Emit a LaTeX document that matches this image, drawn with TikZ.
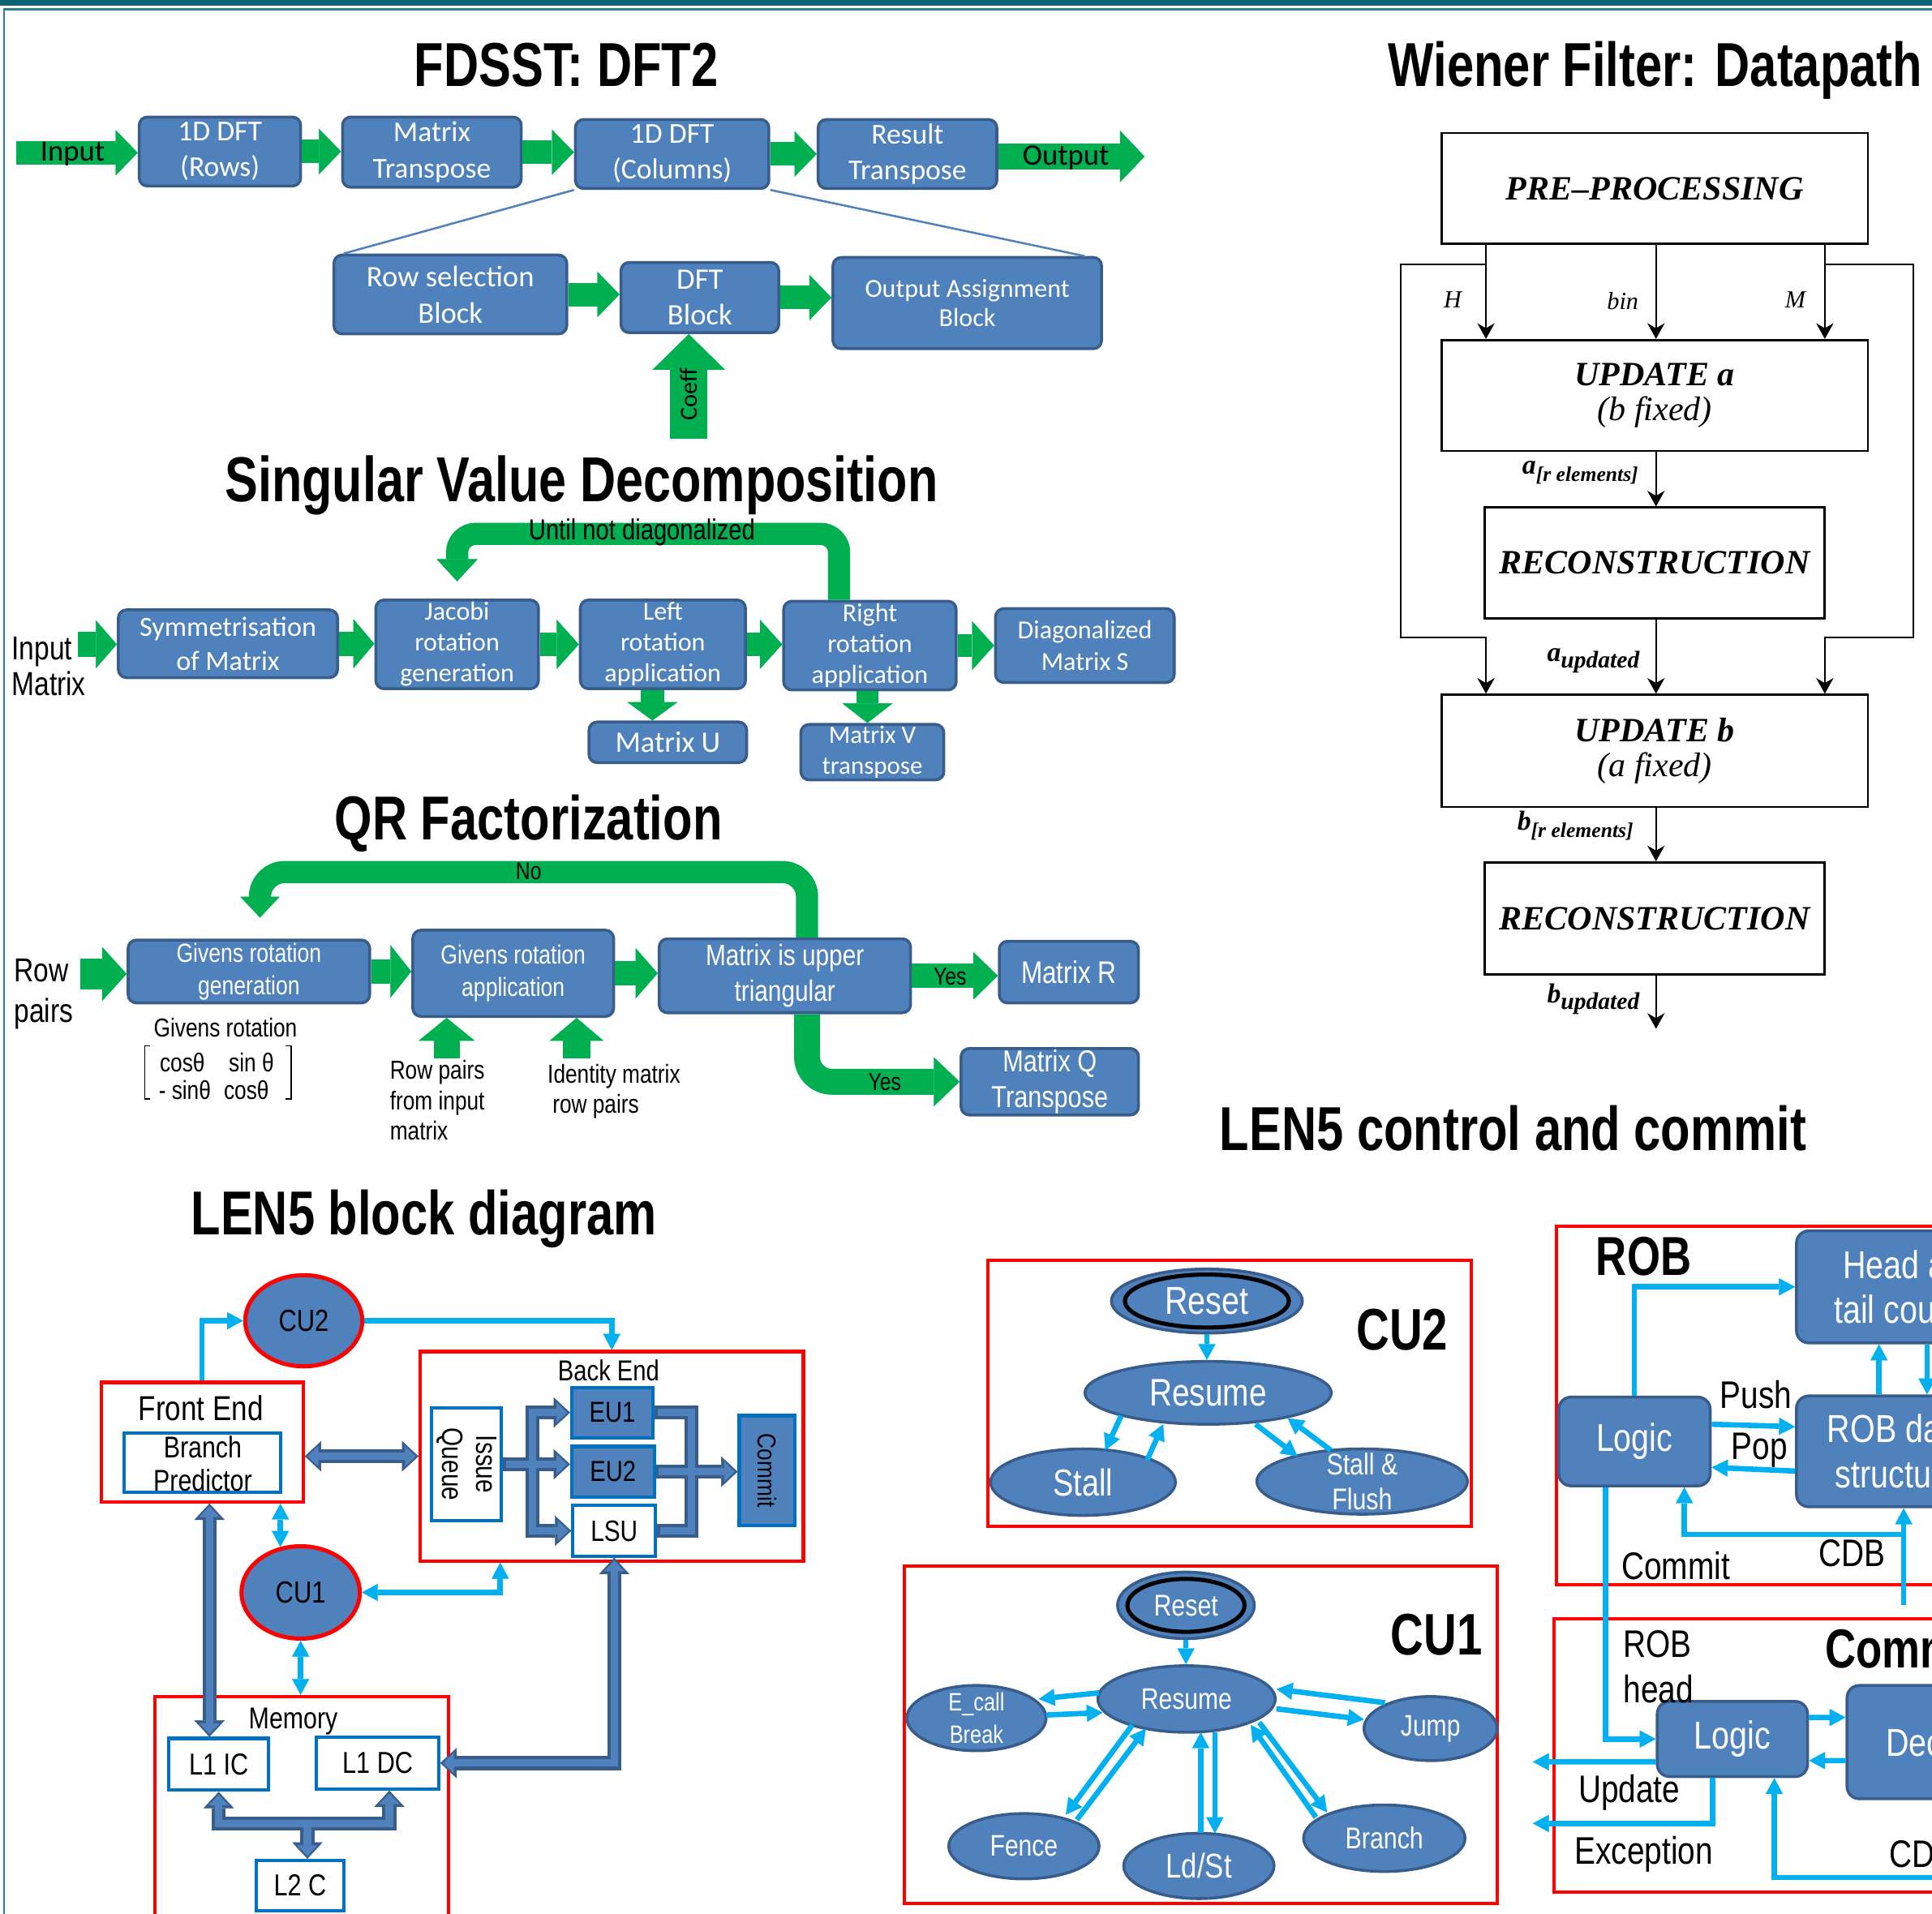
\documentclass[tikz,border=0pt]{standalone}
\usepackage{graphicx}
\usepackage{fontspec}
\setmainfont{Liberation Sans}
\newfontfamily\nar[FakeStretch=0.82]{Liberation Sans}
\newfontfamily\ttl[FakeStretch=0.78]{Liberation Sans}
\newfontfamily\calib{Carlito}
\newfontfamily\tms{Liberation Serif}
\usetikzlibrary{arrows.meta,shapes.geometric,calc}
\definecolor{grn}{HTML}{00B050}
\definecolor{bfill}{HTML}{4F81BD}
\definecolor{bdk}{HTML}{385D8A}
\definecolor{cyn}{HTML}{00B0F0}
\definecolor{ored}{HTML}{FF0000}
\definecolor{oblue}{HTML}{0070C0}
\definecolor{tealA}{HTML}{0B6374}
\definecolor{tealB}{HTML}{2B7F8E}
\newcommand\FSZ[2]{\fontsize{#1}{#2}\selectfont}
\newcommand\MYBOX[7]{\node[#1, minimum width={(#4-#2)*0.015cm}, minimum height={(#5-#3)*0.015cm}] (#6) at ({(#2+#4)/2},{(#3+#5)/2}) {#7};}
\newcommand\MYELL[8]{\node[#1, minimum width={2*#4*0.015cm}, minimum height={2*#5*0.015cm}] (#6) at (#2,#3) {};
  \node[etext, #7] (#6t) at (#6) {#8};}
\tikzset{
 bbox/.style={draw=bdk, fill=bfill, line width=0.035cm, rounded corners=0.1cm, text=white, align=center, inner sep=0pt},
 rbox/.style={draw=ored, line width=0.04cm, inner sep=0pt},
 obox/.style={draw=oblue, line width=0.04cm, fill=white, inner sep=0pt, align=center},
 wbox/.style={draw=black, line width=0.8pt, fill=white, inner sep=0pt, align=center, font=\tms\bfseries\itshape\FSZ{11.8}{12}},
 ell/.style={ellipse, draw=bdk, fill=bfill, line width=0.035cm, inner sep=0pt},
 etext/.style={inner sep=0pt, align=center, text=white},
 title/.style={font=\ttl\bfseries\FSZ{21.5}{25}, inner sep=0pt, anchor=base},
 garr/.style n args={3}{draw=grn, line width=#1, -{Triangle[length=#3, width=#2, line width=0.1pt]}},
 carr/.style={draw=cyn, line width=0.065cm, >={Triangle[length=0.195cm, width=0.21cm, line width=0.1pt]}},
 warr/.style={draw=black, line width=0.6pt, -{Stealth[length=0.19cm, width=0.21cm, inset=0.06cm]}},
 fatD/.style={draw=bdk, line width=0.17cm, >={Triangle[length=0.2cm, width=0.37cm, line width=0.1pt]}},
 fatL/.style={draw=bfill, line width=0.09cm, >={Triangle[length=0.13cm, width=0.25cm, line width=0.1pt]}, shorten >=0.035cm, shorten <=0.035cm},
 lbl/.style={inner sep=0pt, font=\nar\FSZ{13.3}{15.6}},
 sm/.style={inner sep=0pt, font=\nar\FSZ{9}{10.5}},
}
\newcommand\fatpaths[1]{%
 \draw[#1,<->] (be.west -| fe.east) -- (be.west);
 \draw[#1,<->] (fe.south -| xfe) -- (l1ic.north -| xfe);
 \draw[#1,->] (iq.east) -- (iq.east -| eu2.west);
 \draw[#1,<->] (eu1.west) -| (fx) |- (lsu.west);
 \draw[#1] (eu1.east) -| (cx) |- (lsu.east);
 \draw[#1,->] (eu2.east) -- (eu2.east -| cmt.west);
 \draw[#1,<->] (lsu.south) |- (l1dc.east);
 \draw[#1,<->] (l1ic.south) |- (mj) -| ([xshift=0.1425cm]l1dc.south);
 \draw[#1,->] (mj) -- (mj |- l2c.north);
}
\begin{document}
\begin{tikzpicture}[x=0.015cm,y=-0.015cm]
\path[use as bounding box] (0,0) rectangle (1568,1553);
\clip (0,0) rectangle (1568,1553);
% frame
\fill[tealA] (0,0) rectangle (1568,4.6);
\draw[tealB, line width=0.025cm] (3.4,1560) -- (3.4,7.4) -- (1570,7.4);

% ================= FDSST =================
\node[title] (tF) at (459.6,70) {FDSST: DFT2};
\MYBOX{bbox,font=\calib\FSZ{10}{12.4}}{113}{95}{244}{151}{f1}{1D DFT\\(Rows)}
\MYBOX{bbox,font=\calib\FSZ{10}{12.4}}{278}{95}{423}{152}{f2}{Matrix\\Transpose}
\MYBOX{bbox,font=\calib\FSZ{10}{12.4}}{467}{97}{624}{153}{f3}{1D DFT\\(Columns)}
\MYBOX{bbox,font=\calib\FSZ{10}{12.4}}{664}{97}{809}{153}{f4}{Result\\Transpose}
\MYBOX{bbox,font=\calib\FSZ{10.3}{12.6}}{271}{207}{460}{271}{f5}{Row selection\\Block}
\MYBOX{bbox,font=\calib\FSZ{10.3}{12.6}}{504}{213}{632}{270}{f6}{DFT\\Block}
\MYBOX{bbox,font=\calib\FSZ{9}{10}}{676}{209}{894}{283}{f7}{Output Assignment\\Block}
\coordinate (inF) at (13,124);
\draw[garr={0.285cm}{0.555cm}{0.27cm}] (inF) -- (inF -| f1.west);
\node[font=\calib\FSZ{10.3}{12}, inner sep=0pt] (tInF) at (59,125) {Input};
\draw[garr={0.285cm}{0.555cm}{0.27cm}] (f1.east) -- (f1.east -| f2.west);
\draw[garr={0.285cm}{0.555cm}{0.27cm}] (f2.east) -- (f2.east -| f3.west);
\draw[garr={0.285cm}{0.555cm}{0.27cm}] (f3.east) -- (f3.east -| f4.west);
\coordinate (outF) at (929,127);
\draw[garr={0.315cm}{0.63cm}{0.3cm}] (f4.east |- outF) -- (outF);
\node[font=\calib\FSZ{10.3}{12}, inner sep=0pt] (tOutF) at (865,128) {Output};
\draw[garr={0.285cm}{0.555cm}{0.27cm}] (f5.east) -- (f5.east -| f6.west);
\draw[garr={0.285cm}{0.555cm}{0.27cm}] (f6.east) -- (f6.east -| f7.west);
\coordinate (cf) at (559,356);
\draw[garr={0.45cm}{0.885cm}{0.435cm}] (cf) -- (cf |- f6.south);
\node[rotate=90, font=\calib\FSZ{8.5}{10}, inner sep=0pt] (tCf) at (559,320) {Coeff};
\draw[bfill, line width=0.025cm] (f3.south west) -- ([xshift=0.135cm]f5.north west);
\draw[bfill, line width=0.025cm] (f3.south east) -- ([xshift=-0.225cm]f7.north east);

% ================= SVD =================
\node[title, font=\ttl\bfseries\FSZ{22}{25}] (tS) at (472,407) {Singular Value Decomposition};
\MYBOX{bbox,font=\calib\FSZ{9.6}{11.7}}{96}{495}{274}{550}{s1}{Symmetrisation\\of Matrix}
\MYBOX{bbox,font=\calib\FSZ{9}{10.7}}{305}{487}{437}{559}{s2}{Jacobi\\rotation\\generation}
\MYBOX{bbox,font=\calib\FSZ{9}{10.7}}{471}{487}{605}{559}{s3}{Left\\rotation\\application}
\MYBOX{bbox,font=\calib\FSZ{9}{10.7}}{636}{488}{776}{560}{s4}{Right\\rotation\\application}
\MYBOX{bbox,font=\calib\FSZ{9}{10.7}}{808}{494}{953}{554}{s5}{Diagonalized\\Matrix S}
\MYBOX{bbox,font=\calib\FSZ{10.3}{12}}{478}{586}{606}{619}{s6}{Matrix U}
\MYBOX{bbox,font=\calib\FSZ{8.7}{10.7}}{650}{588}{766}{633}{s7}{Matrix V\\transpose}
\coordinate (inS) at (63,523);
\draw[garr={0.3cm}{0.585cm}{0.255cm}] (inS) -- (inS -| s1.west);
\node[font=\nar\FSZ{11.5}{12.4}, align=left, anchor=west, inner sep=0pt] (tInS) at (9,541) {Input\\Matrix};
\draw[garr={0.3cm}{0.6cm}{0.255cm}] (s1.east) -- (s1.east -| s2.west);
\draw[garr={0.285cm}{0.6cm}{0.27cm}] (s2.east) -- (s2.east -| s3.west);
\draw[garr={0.285cm}{0.6cm}{0.27cm}] (s3.east) -- (s3.east -| s4.west);
\draw[garr={0.285cm}{0.6cm}{0.27cm}] (s4.east) -- (s4.east -| s5.west);
\coordinate (xu) at (529.5,0);
\draw[garr={0.285cm}{0.615cm}{0.225cm}] (s3.south -| xu) -- (s6.north -| xu);
\coordinate (xv) at (704,0);
\draw[garr={0.27cm}{0.615cm}{0.24cm}] (s4.south -| xv) -- (s7.north -| xv);
\draw[garr={0.27cm}{0.5cm}{0.27cm}, rounded corners=0.225cm] ([xshift=-0.375cm]s4.north) -- ++(0,-53.5) -| ([yshift=0.21cm]s2.north);
\node[font=\nar\FSZ{10}{12}, inner sep=0pt] (tUntil) at (521,432) {Until not diagonalized};

% ================= QR =================
\node[title] (tQ) at (429,681.5) {QR Factorization};
\MYBOX{bbox,font=\nar\FSZ{9.1}{11.2}}{104}{763}{300}{814}{q1}{Givens rotation\\generation}
\MYBOX{bbox,font=\nar\FSZ{9.1}{11.2}}{335}{755}{498}{825}{q2}{Givens rotation\\application}
\MYBOX{bbox,font=\nar\FSZ{10.2}{12.2}}{535}{762}{739}{822}{q3}{Matrix is upper\\triangular}
\MYBOX{bbox,font=\nar\FSZ{10.8}{12}}{811}{764}{924}{814}{q4}{Matrix R}
\MYBOX{bbox,font=\nar\FSZ{10.5}{12.2}}{780}{851}{924}{905}{q5}{Matrix Q\\Transpose}
\coordinate (inQ) at (65,790.5);
\draw[garr={0.375cm}{0.66cm}{0.3cm}] (inQ) -- (inQ -| q1.west);
\node[font=\nar\FSZ{11.5}{14}, align=left, anchor=west, inner sep=0pt] (tRow) at (11,807) {Row\\pairs};
\draw[garr={0.29cm}{0.645cm}{0.255cm}] (q1.east) -- (q1.east -| q2.west);
\draw[garr={0.3cm}{0.615cm}{0.27cm}] (q2.east) -- (q2.east -| q3.west);
\draw[garr={0.3cm}{0.585cm}{0.3cm}] (q3.east) -- (q3.east -| q4.west);
\node[font=\nar\FSZ{8.5}{10}, inner sep=0pt] (tYes1) at (771,793) {Yes};
\draw[garr={0.315cm}{0.6cm}{0.315cm}, rounded corners=0.3cm] ([xshift=0.27cm]q3.south) |- (q5.west);
\node[font=\nar\FSZ{8.5}{10}, inner sep=0pt] (tYes2) at (718,878) {Yes};
\draw[garr={0.27cm}{0.48cm}{0.255cm}, rounded corners=0.3cm] ([xshift=0.27cm]q3.north) -- ++(0,-53) -| ([shift={(0.135cm,0.255cm)}]q1.north);
\node[font=\nar\FSZ{8.5}{10}, inner sep=0pt] (tNo) at (429,707) {No};
\coordinate (rp1) at (362.5,859);
\draw[garr={0.315cm}{0.69cm}{0.28cm}] (rp1) -- (rp1 |- q2.south);
\coordinate (rp2) at (468,859);
\draw[garr={0.33cm}{0.66cm}{0.28cm}] (rp2) -- (rp2 |- q2.south);
\node[sm, align=left, anchor=west] (tRP) at (316,893) {Row pairs\\from input\\matrix};
\node[sm, align=left, anchor=west] (tID) at (444,886) {Identity matrix\\\hspace{1.7pt}row pairs};
\node[sm] (tGR) at (183,834) {Givens rotation};
\node[sm] (m11) at (148,862.5) {cosθ};
\node[sm] (m12) at (204,862.5) {sin θ};
\node[sm] (m21) at (150,884.5) {- sinθ};
\node[sm] (m22) at (200,884.5) {cosθ};
\draw[black, line width=0.4pt] (121.7,849) -- (117.6,849) -- (117.6,892) -- (121.7,892);
\draw[black, line width=0.4pt] (231.6,849) -- (236.4,849) -- (236.4,892) -- (231.6,892);

% ================= Wiener =================
\node[title] (tW) at (1343.5,70) {Wiener Filter: Datapath};
\MYBOX{wbox}{1170}{108}{1516}{198}{pre}{PRE–PROCESSING}
\MYBOX{wbox}{1170}{276}{1516}{366}{upa}{UPDATE a\\{\mdseries (b fixed)}}
\MYBOX{wbox}{1205}{412}{1481}{502}{rec1}{RECONSTRUCTION}
\MYBOX{wbox}{1170}{564}{1516}{655}{upb}{UPDATE b\\{\mdseries (a fixed)}}
\MYBOX{wbox}{1205}{700}{1481}{791}{rec2}{RECONSTRUCTION}
\coordinate (xH) at (1206,0);
\coordinate (xB) at (1344,0);
\coordinate (xM) at (1481,0);
\draw[warr] (pre.south -| xH) -- (upa.north -| xH);
\draw[warr] (pre.south -| xB) -- (upa.north -| xB);
\draw[warr] (pre.south -| xM) -- (upa.north -| xM);
\coordinate (jH) at (1206,214.6);
\coordinate (lH) at (1137,517.5);
\draw[warr] (jH) -| (lH) -| (upb.north -| xH);
\coordinate (jM) at (1481,214.6);
\coordinate (rM) at (1553,517.5);
\draw[warr] (jM) -| (rM) -| (upb.north -| xM);
\draw[warr] (upa.south -| xB) -- (rec1.north -| xB);
\draw[warr] (rec1.south -| xB) -- (upb.north -| xB);
\draw[warr] (upb.south -| xB) -- (rec2.north -| xB);
\coordinate (wo) at (1344,835);
\draw[warr] (rec2.south -| xB) -- (wo);
\node[font=\tms\itshape\FSZ{8.5}{10}, inner sep=0pt] (lbH) at (1179,243) {H};
\node[font=\tms\itshape\FSZ{8.5}{10}, inner sep=0pt] (lbB) at (1317,244) {bin};
\node[font=\tms\itshape\FSZ{8.5}{10}, inner sep=0pt] (lbM) at (1457,243) {M};
\node[anchor=base east, inner sep=0pt, font=\tms\bfseries\itshape\FSZ{9.5}{11}] (lbA1) at (1330,385) {a\raisebox{-2.3pt}{\FSZ{7.2}{9}[r elements]}};
\node[anchor=base east, inner sep=0pt, font=\tms\bfseries\itshape\FSZ{9.5}{11}] (lbA2) at (1331,537) {a\raisebox{-2.3pt}{\FSZ{8.3}{9}updated}};
\node[anchor=base east, inner sep=0pt, font=\tms\bfseries\itshape\FSZ{9.5}{11}] (lbB1) at (1326,674) {b\raisebox{-2.3pt}{\FSZ{7.2}{9}[r elements]}};
\node[anchor=base east, inner sep=0pt, font=\tms\bfseries\itshape\FSZ{9.5}{11}] (lbB2) at (1331,814) {b\raisebox{-2.3pt}{\FSZ{8.3}{9}updated}};

% ================= LEN5 block diagram =================
\node[title] (tL) at (344,1002) {LEN5 block diagram};
\MYBOX{rbox}{82}{1122}{246}{1219}{fe}{}
\node[font=\nar\FSZ{12}{14}, inner sep=0pt] (tFE) at (163,1143) {Front End};
\MYBOX{obox}{101}{1163}{228}{1211}{bp}{}
\node[font=\nar\FSZ{10.4}{11.5}, align=center, inner sep=0pt] (tBP) at (164.5,1188) {Branch\\Predictor};
\MYBOX{rbox}{341}{1097}{652}{1267}{be}{}
\node[font=\nar\FSZ{10}{12}, inner sep=0pt] (tBE) at (494,1112) {Back End};
\MYBOX{obox,font=\nar\FSZ{10.2}{11.8}}{350}{1143}{407}{1234}{iq}{\rotatebox{-90}{\begin{tabular}{@{}c@{}}Issue\\Queue\end{tabular}}}
\MYBOX{obox,fill=bfill,font=\nar\FSZ{10}{12}}{464}{1126}{530}{1167}{eu1}{EU1}
\MYBOX{obox,fill=bfill,font=\nar\FSZ{10}{12}}{464}{1174}{531}{1215}{eu2}{EU2}
\MYBOX{obox,font=\nar\FSZ{10.2}{12}}{465}{1222}{532}{1263}{lsu}{LSU}
\MYBOX{obox,fill=bfill,font=\nar\FSZ{9}{11}}{600}{1149}{645}{1238}{cmt}{\rotatebox{-90}{Commit}}
\MYBOX{rbox}{126}{1377}{364}{1600}{mem}{}
\node[font=\nar\FSZ{10.4}{12}, inner sep=0pt] (tMem) at (238,1397) {Memory};
\MYBOX{obox,font=\nar\FSZ{10.5}{12}}{137}{1411}{218}{1453}{l1ic}{L1 IC}
\MYBOX{obox,font=\nar\FSZ{10.5}{12}}{257}{1410}{356}{1452}{l1dc}{L1 DC}
\MYBOX{obox,font=\nar\FSZ{10.5}{12}}{208}{1510}{279}{1551}{l2c}{L2 C}
\MYELL{ell,draw=ored,line width=0.05cm}{246.5}{1072}{47.5}{37}{cu2}{text=black,font=\nar\FSZ{10.6}{12}}{CU2}
\MYELL{ell,draw=ored,line width=0.05cm}{244}{1292.5}{48}{37.5}{cu1}{text=black,font=\nar\FSZ{10.6}{12}}{CU1}
\coordinate (xfe) at (170,0);
\coordinate (fx) at (432,1190);
\coordinate (cx) at (561,1195);
\coordinate (mj) at (249.5,1480);
\fatpaths{fatD}
\fatpaths{fatL}
\draw[carr,->] (fe.north) |- (cu2.west);
\draw[carr,->] (cu2.east) -| (be.north);
\draw[carr,<->] (fe.south -| cu1.114) -- (cu1.114);
\draw[carr,<->] (cu1.east) -| ([xshift=-1.3575cm]be.south);
\draw[carr,<->] (cu1.south) -- (cu1.south |- mem.north);

% ================= LEN5 control and commit =================
\node[title] (tC) at (1228,933.5) {LEN5 control and commit};
\MYBOX{rbox}{802}{1023}{1194}{1239}{cu2box}{}
\node[font=\ttl\bfseries\FSZ{20.3}{24}, inner sep=0pt] (tCU2) at (1138,1079) {CU2};
\MYELL{ell}{979.5}{1056}{77.5}{26}{rs2o}{}{}
\MYELL{ell,draw=black,line width=0.05cm}{979.5}{1056}{66.5}{21.5}{rs2}{font=\nar\FSZ{13.5}{15}}{Reset}
\MYELL{ell}{980.5}{1130.5}{100}{25.5}{rm2}{font=\nar\FSZ{13.3}{15}}{Resume}
\MYELL{ell}{879}{1203}{75}{27}{st2}{font=\nar\FSZ{13}{15}}{Stall}
\MYELL{ell}{1105.5}{1202.5}{85.5}{26.5}{sf2}{font=\nar\FSZ{10.4}{12.2}}{Stall \&\\Flush}
\draw[carr,->] (rs2o.south) -- (rs2o.south |- rm2.north);
\draw[carr,->] ($(rm2)+(-70.5,18.5)$) -- ($(st2)+(18,-26)$);
\draw[carr,->] ($(st2)+(52,-18)$) -- ($(rm2)+(-36.5,25.5)$);
\draw[carr,->] ($(rm2)+(38.5,25.5)$) -- ($(sf2)+(-52.5,-20.5)$);
\draw[carr,->] ($(sf2)+(-25.5,-25.5)$) -- ($(rm2)+(64.5,20.5)$);

\MYBOX{rbox}{734}{1271}{1215}{1545}{cu1box}{}
\node[font=\ttl\bfseries\FSZ{20.3}{24}, inner sep=0pt] (tCU1) at (1166,1327) {CU1};
\MYELL{ell}{962.5}{1303}{55.5}{27}{rs1o}{}{}
\MYELL{ell,draw=black,line width=0.05cm}{962.5}{1303}{47.5}{21.5}{rs1}{font=\nar\FSZ{10.4}{12}}{Reset}
\MYELL{ell}{963}{1379}{72}{27}{rm1}{font=\nar\FSZ{10.3}{12}}{Resume}
\MYELL{ell}{792.5}{1394.5}{56.5}{26.5}{ec1}{font=\nar\FSZ{8.7}{11}}{E\_call\\Break}
\MYELL{ell}{1161}{1403}{54}{26}{jp1}{font=\nar\FSZ{10.3}{12}}{Jump}
\MYELL{ell}{831}{1498.5}{61}{26.5}{fn1}{font=\nar\FSZ{10.3}{12}}{Fence}
\MYELL{ell}{973}{1514.5}{61}{26.5}{ld1}{font=\nar\FSZ{11.9}{13}}{Ld/St}
\MYELL{ell}{1123.5}{1492}{65.5}{27}{br1}{font=\nar\FSZ{10.4}{12}}{Branch}
\draw[carr,->] (rs1o.south) -- (rs1o.south |- rm1.north);
\draw[carr,->] ($(rm1)+(-71,-5)$) -- ($(ec1)+(50.5,-15.5)$);
\draw[carr,->] ($(ec1)+(56.5,-2.5)$) -- ($(rm1)+(-68,11)$);
\draw[carr,->] ($(rm1)+(73,8)$) -- ($(jp1)+(-54,-7.4)$);
\draw[carr,->] ($(jp1)+(-37,-21)$) -- ($(rm1)+(73,-8)$);
\draw[carr,->] ($(rm1)+(-44,21)$) -- ($(fn1)+(34,-25.5)$);
\draw[carr,->] ($(fn1)+(43,-21.5)$) -- ($(rm1)+(-33,24)$);
\draw[carr,->] ($(ld1)+(1.5,-26.5)$) -- ($(rm1)+(11.5,27)$);
\draw[carr,->] ($(rm1)+(23,27)$) -- ($(ld1)+(13,-26.5)$);
\draw[carr,->] ($(rm1)+(59,19)$) -- ($(br1)+(-46.5,-21)$);
\draw[carr,->] ($(br1)+(-55.5,-17)$) -- ($(rm1)+(52,21)$);

% ROB
\MYBOX{rbox}{1263}{995}{1600}{1286}{robbox}{}
\node[font=\ttl\bfseries\FSZ{19}{22}, inner sep=0pt] (tROB) at (1334,1020) {ROB};
\MYBOX{bbox,rounded corners=0.15cm,font=\nar\FSZ{13.5}{15.4}}{1458}{999}{1646}{1090}{hd}{Head and\\tail counter}
\MYBOX{bbox,rounded corners=0.15cm,font=\nar\FSZ{13.5}{15.8}}{1458}{1133}{1622}{1223}{rds}{ROB data\\structure}
\MYBOX{bbox,rounded corners=0.15cm,font=\nar\FSZ{13.5}{15}}{1265}{1134}{1388}{1206}{lg1}{Logic}
\MYBOX{rbox}{1261}{1314}{1600}{1536}{cmbox}{}
\node[font=\ttl\bfseries\FSZ{19}{22}, anchor=west, inner sep=0pt] (tCom) at (1481,1338) {Commit};
\MYBOX{bbox,rounded corners=0.15cm,font=\nar\FSZ{13.5}{15}}{1345}{1381}{1467}{1442}{lg2}{Logic}
\MYBOX{bbox,rounded corners=0.15cm,font=\nar\FSZ{13.5}{15}}{1499}{1368}{1652}{1460}{dec}{Decode}
\coordinate (xa) at (1525,0);
\coordinate (xb) at (1564,0);
\draw[carr,->] (lg1.north) |- (hd.west);
\draw[carr,->] ([yshift=0.21cm]lg1.east) -- ([yshift=0.3cm]rds.west);
\draw[carr,->] ([yshift=-0.24cm]rds.west) -- ([yshift=-0.315cm]lg1.east);
\draw[carr,->] (rds.north -| xa) -- (hd.south -| xa);
\draw[carr,->] (hd.south -| xb) -- (rds.north -| xb);
\coordinate (cdb1) at (1545,1303);
\draw[carr,->] (cdb1) -- (cdb1 |- rds.south);
\coordinate (cdbj) at (1545,1245.5);
\draw[carr,->] (cdbj) -| ([xshift=0.6075cm]lg1.south);
\draw[carr,->] ([xshift=-0.3525cm]lg1.south) |- (lg2.west);
\draw[carr,->] ([yshift=0.2625cm]lg2.east) -- ([yshift=0.3cm]dec.west);
\draw[carr,->] ([yshift=-0.225cm]dec.west) -- ([yshift=-0.2625cm]lg2.east);
\coordinate (upd) at (1244,1430);
\draw[carr,->] ([yshift=-0.2775cm]lg2.west) -- (upd);
\coordinate (exc) at (1244,1480);
\draw[carr,->] ([xshift=-0.24cm]lg2.south) |- (exc);
\coordinate (cdb2) at (1600,1524);
\draw[carr,->] (cdb2) -| ([xshift=0.51cm]lg2.south);
\node[lbl] (tPush) at (1425,1132) {Push};
\node[lbl] (tPop) at (1428,1177) {Pop};
\node[lbl] (tCommitL) at (1360,1271) {Commit};
\node[lbl] (tCDB) at (1503,1261) {CDB};
\node[lbl, anchor=west, align=left] (tRH) at (1317,1353) {ROB\\head};
\node[lbl, anchor=west] (tUpd) at (1280.6,1455) {Update};
\node[lbl, anchor=west] (tExc) at (1277.5,1505) {Exception};
\node[lbl, anchor=west] (tCD) at (1532.7,1505) {CDB};
\end{tikzpicture}
\end{document}
